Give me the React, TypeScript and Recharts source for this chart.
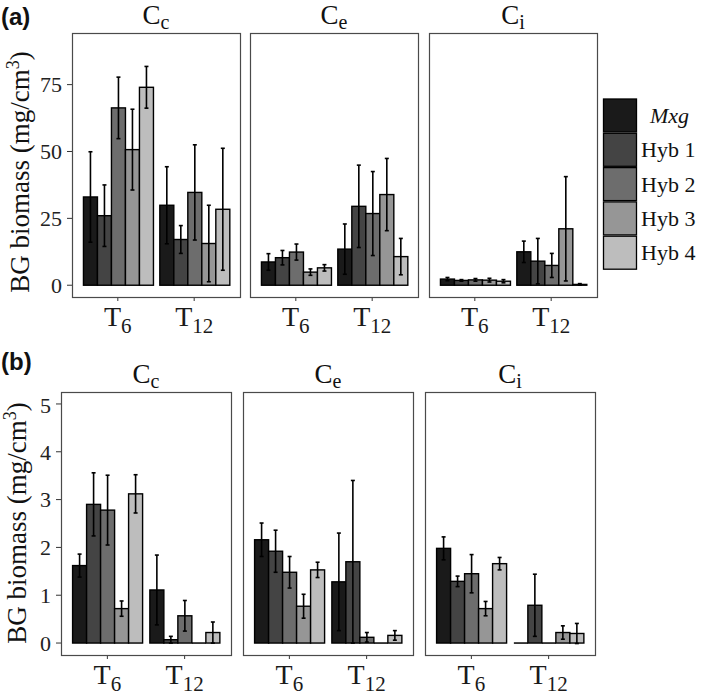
import React from 'react';
import { BarChart, Bar, XAxis, YAxis, ErrorBar } from 'recharts';

const SERIES = ['Mxg', 'Hyb 1', 'Hyb 2', 'Hyb 3', 'Hyb 4'];
const FILLS = ['#1a1a1a', '#444444', '#6d6d6d', '#969696', '#bdbdbd'];
const TIMES = ['6', '12'];
const SITES = ['c', 'e', 'i'];

// (a) means and errors, order Mxg, Hyb 1..4
const A_CC_T6 = [33.0, 26.0, 66.3, 50.7, 74.0];
const A_CC_T6_ERR = [16.9, 11.5, 11.5, 15.1, 7.8];
const A_CC_T12 = [29.9, 17.1, 34.7, 15.6, 28.4];
const A_CC_T12_ERR = [14.4, 5.2, 17.8, 14.3, 22.8];
const A_CE_T6 = [8.7, 10.3, 12.4, 4.9, 6.5];
const A_CE_T6_ERR = [3.1, 2.7, 3.0, 1.2, 1.2];
const A_CE_T12 = [13.5, 29.5, 26.8, 33.9, 10.7];
const A_CE_T12_ERR = [9.4, 15.4, 15.7, 13.5, 6.8];
const A_CI_T6 = [2.3, 1.8, 2.0, 1.9, 1.5];
const A_CI_T6_ERR = [0.6, 0.3, 0.5, 0.7, 0.6];
const A_CI_T12 = [12.5, 9.0, 7.4, 21.1, 0.3];
const A_CI_T12_ERR = [4.0, 8.5, 4.5, 19.5, 0.3];

// (b)
const B_CC_T6 = [1.62, 2.9, 2.78, 0.72, 3.12];
const B_CC_T6_ERR = [0.24, 0.66, 0.73, 0.16, 0.4];
const B_CC_T12 = [1.11, 0.07, 0.57, 0, 0.22];
const B_CC_T12_ERR = [0.73, 0.07, 0.32, 0, 0.22];
const B_CE_T6 = [2.16, 1.92, 1.48, 0.77, 1.53];
const B_CE_T6_ERR = [0.35, 0.44, 0.33, 0.25, 0.16];
const B_CE_T12 = [1.28, 1.7, 0.12, 0, 0.16];
const B_CE_T12_ERR = [1.02, 1.7, 0.1, 0, 0.1];
const B_CI_T6 = [1.98, 1.29, 1.45, 0.72, 1.66];
const B_CI_T6_ERR = [0.24, 0.11, 0.4, 0.15, 0.13];
const B_CI_T12 = [0, 0.79, 0, 0.22, 0.2];
const B_CI_T12_ERR = [0, 0.65, 0, 0.14, 0.21];

const A_TICKS = [0, 25, 50, 75];
const B_TICKS = [0, 1, 2, 3, 4, 5];

const SERIF = '"Liberation Serif", "DejaVu Serif", serif';
const SANS = '"Liberation Sans", Arial, sans-serif';

const toRows = (means: number[][], errs: number[][]) =>
  TIMES.map((t, ti) => {
    const r: any = { t };
    SERIES.forEach((_, i) => {
      r['v' + i] = means[ti][i];
      r['e' + i] = errs[ti][i];
    });
    return r;
  });

const ROW_A = [
  toRows([A_CC_T6, A_CC_T12], [A_CC_T6_ERR, A_CC_T12_ERR]),
  toRows([A_CE_T6, A_CE_T12], [A_CE_T6_ERR, A_CE_T12_ERR]),
  toRows([A_CI_T6, A_CI_T12], [A_CI_T6_ERR, A_CI_T12_ERR]),
];
const ROW_B = [
  toRows([B_CC_T6, B_CC_T12], [B_CC_T6_ERR, B_CC_T12_ERR]),
  toRows([B_CE_T6, B_CE_T12], [B_CE_T6_ERR, B_CE_T12_ERR]),
  toRows([B_CI_T6, B_CI_T12], [B_CI_T6_ERR, B_CI_T12_ERR]),
];

// layout
const LAYOUT = [
  { top: 33, height: 264, lefts: [72, 250, 429], width: 168, axisW: 70, domain: [-4.4, 94.3], ticks: A_TICKS, rows: ROW_A, strip: 24, label: '(a)', labelY: 25, titleX: 29, titleY: 172 },
  { top: 392, height: 263, lefts: [61, 243, 425], width: 170, axisW: 59, domain: [-0.25, 5.25], ticks: B_TICKS, rows: ROW_B, strip: 383, label: '(b)', labelY: 370, titleX: 26, titleY: 523 },
];

const BarShape = (p: any) => {
  const { x, y, width, height, fill } = p;
  if (!height || Math.abs(height) < 0.8)
    return <line x1={x} x2={x + width} y1={y} y2={y} stroke="#000" strokeWidth={1.5} />;
  return <rect x={x} y={y} width={width} height={height} fill={fill} stroke="#000" strokeWidth={1.4} />;
};

const TTick = ({ x, y, payload }: any) => (
  <text x={x} y={y} dy={22} textAnchor="middle" fontFamily={SERIF} fontSize={28} fill="#1a1a1a">
    T<tspan fontSize={21} dy={7}>{payload.value}</tspan>
  </text>
);

function Panel({ data, left, top, width, height, axisW, domain, ticks }: any) {
  const pad = width / 22;
  return (
    <div style={{ position: 'absolute', left: left - axisW, top }}>
      <BarChart width={width + axisW} height={height + 50} data={data} margin={{ top: 0, right: 0, left: 0, bottom: 0 }} barCategoryGap="5%" barGap={0}>
        <XAxis dataKey="t" type="category" padding={{ left: pad, right: pad }} axisLine={false} tickLine={{ stroke: '#333' }} tickSize={4} tickMargin={3} height={50} tick={<TTick />} interval={0} />
        <YAxis hide={!axisW} width={axisW} type="number" domain={domain} ticks={ticks} allowDataOverflow axisLine={false} tickLine={{ stroke: '#333' }} tickSize={5} tickMargin={5} tick={{ fontSize: 22, fontFamily: SERIF, fill: '#222' }} />
        {SERIES.map((s, i) => (
          <Bar key={s} dataKey={'v' + i} fill={FILLS[i]} shape={BarShape} isAnimationActive={false}>
            <ErrorBar dataKey={'e' + i} width={2} stroke="#000" strokeWidth={1.6} />
          </Bar>
        ))}
      </BarChart>
    </div>
  );
}

export default function App() {
  return (
    <div style={{ position: 'absolute', left: 0, top: 0, width: 709, height: 698, background: '#fff', overflow: 'hidden' }}>
      {LAYOUT.map((row, ri) =>
        row.rows.map((d, pi) => (
          <Panel key={ri + '-' + pi} data={d} left={row.lefts[pi]} top={row.top} width={row.width} height={row.height} axisW={pi === 0 ? row.axisW : 0} domain={row.domain} ticks={row.ticks} />
        ))
      )}
      <svg width={709} height={698} style={{ position: 'absolute', left: 0, top: 0, pointerEvents: 'none' }}>
        {LAYOUT.map((row, ri) => (
          <g key={ri}>
            <text x={1} y={row.labelY} fontFamily={SANS} fontWeight="bold" fontSize={24} fill="#111">{row.label}</text>
            <text transform={`translate(${row.titleX},${row.titleY}) rotate(-90)`} textAnchor="middle" fontFamily={SERIF} fontSize={27} fill="#111">
              BG biomass (mg/cm<tspan fontSize={18} dy={-10}>3</tspan><tspan dy={10}>)</tspan>
            </text>
            {row.lefts.map((l, pi) => (
              <g key={pi}>
                <rect x={l + 0.5} y={row.top + 0.5} width={row.width} height={row.height} fill="none" stroke="#4a4a4a" strokeWidth={1.2} />
                <text x={l + row.width / 2} y={row.strip} textAnchor="middle" fontFamily={SERIF} fontSize={27} fill="#111">
                  C<tspan fontSize={20} dy={5}>{SITES[pi]}</tspan>
                </text>
              </g>
            ))}
          </g>
        ))}
        {SERIES.map((s, i) => (
          <g key={s}>
            <rect x={603.5} y={99 + i * 34.3} width={33} height={33} fill={FILLS[i]} stroke="#000" strokeWidth={1.3} />
            <text x={i === 0 ? 650 : 641} y={99 + i * 34.3 + 24} fontFamily={SERIF} fontSize={22} fontStyle={i === 0 ? 'italic' : 'normal'} fill="#111">{s}</text>
          </g>
        ))}
      </svg>
    </div>
  );
}
